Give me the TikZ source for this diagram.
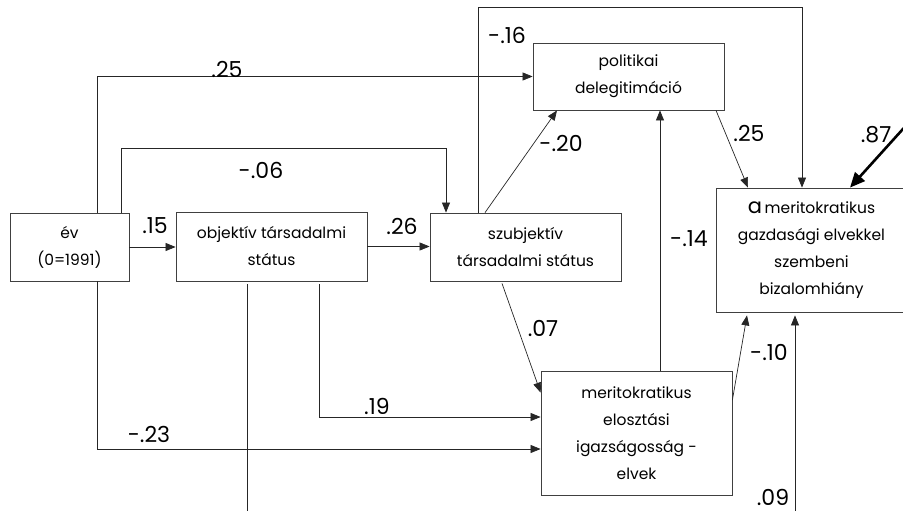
\documentclass[tikz,border=0pt]{standalone}
\usepackage{fontspec}
\setmainfont{Poppins}
\usetikzlibrary{positioning,arrows.meta}

\begin{document}
\begin{tikzpicture}[x=1pt, y=-1pt]
    \tikzset{
      var/.style = {rectangle, draw=black!75, line width=0.8pt, minimum width=191pt, align=center, inner sep=0pt, font=\fontsize{15.5}{27}\selectfont},
      coef/.style = {inner sep=0pt, font=\fontsize{22}{24}\selectfont},
      line/.style = {line width=0.7pt, draw=black!85},
      arrow/.style = {line, -{Triangle[length=10pt, width=8pt]}},
      thickarrow/.style = {line width=2.6pt, -{Triangle[length=15pt, width=13pt]}}
    }
    \useasboundingbox (0,0) rectangle (903,511);

    \node (ev) [var, minimum width=119pt, minimum height=68pt] at (69.5,247) {év\\(0=1991)};
    \node (obj) [var, minimum height=69pt] at (271.5,246.5) {objektív társadalmi\\státus};
    \node (szub) [var, minimum height=68pt] at (525.5,247) {szubjektív\\társadalmi státus};
    \node (pol) [var, minimum height=67pt] at (628.5,76.5) {politikai\\delegitimáció};
    \node (biz) [var, minimum height=124pt] at (811.5,250) {{\fontsize{21}{21}\selectfont a}\,meritokratikus\\gazdasági elvekkel\\szembeni\\bizalomhiány};
    \node (merit) [var, minimum height=124pt] at (636.5,433) {meritokratikus\\elosztási\\igazságosság -\\elvek};

    \coordinate (err) at (912,119);
    \coordinate (cut) at (247,520);
    \coordinate (res) at (795,520);

    \draw [arrow] (ev.east) -- (ev.east -| obj.west);
    \draw [arrow] (obj.east) -- (obj.east -| szub.west);
    \draw [arrow] ([xshift=27.5]ev.north) |- (pol.west);
    \draw [arrow] ([xshift=51.5]ev.north) -- ++(0,-64) -| ([xshift=-79.5]szub.north);
    \draw [arrow] ([xshift=-40.5]szub.north) -- ([xshift=-71.5]pol.south);
    \draw [arrow] ([xshift=-47.5]szub.north) -- ++(0,-205) -| ([xshift=-9.5]biz.north);
    \draw [arrow] ([xshift=87.5]pol.south) -- ([xshift=-63.5]biz.north);
    \draw [thickarrow] (err) -- ([xshift=38.5]biz.north);
    \draw [arrow] ([xshift=23.5]merit.north) -- ([xshift=23.5]merit.north |- pol.south);
    \draw [arrow] ([xshift=-23.5,yshift=-2]szub.south) -- ([yshift=-22]merit.north west);
    \draw [arrow] ([xshift=47.5,yshift=-3]obj.south) |- ([yshift=16]merit.west);
    \draw [arrow] ([xshift=27.5]ev.south) |- ([yshift=-16]merit.west);
    \draw [line] ([xshift=-24.5,yshift=-3]obj.south) -- (cut);
    \draw [arrow] ([yshift=33]merit.east) -- ([xshift=-64.5,yshift=-3]biz.south);
    \draw [arrow] (res) -- ([xshift=-16.5,yshift=-3]biz.south);

    \node (c-ev-pol) [coef] at (227,69) {.25};
    \node (c-ev-szub) [coef] at (261,170) {-.06};
    \node (c-ev-obj) [coef] at (155,226) {.15};
    \node (c-obj-szub) [coef] at (402,226) {.26};
    \node (c-szub-biz) [coef] at (507,35) {-.16};
    \node (c-szub-pol) [coef] at (561,143) {-.20};
    \node (c-pol-biz) [coef] at (749,133) {.25};
    \node (c-err) [coef] at (876,135) {.87};
    \node (c-merit-pol) [coef] at (689,239) {-.14};
    \node (c-szub-merit) [coef] at (543,328) {.07};
    \node (c-obj-merit) [coef] at (377,406) {.19};
    \node (c-ev-merit) [coef] at (149,434) {-.23};
    \node (c-merit-biz) [coef] at (769,352) {-.10};
    \node (c-res) [coef] at (773,497) {.09};
\end{tikzpicture}
\end{document}
